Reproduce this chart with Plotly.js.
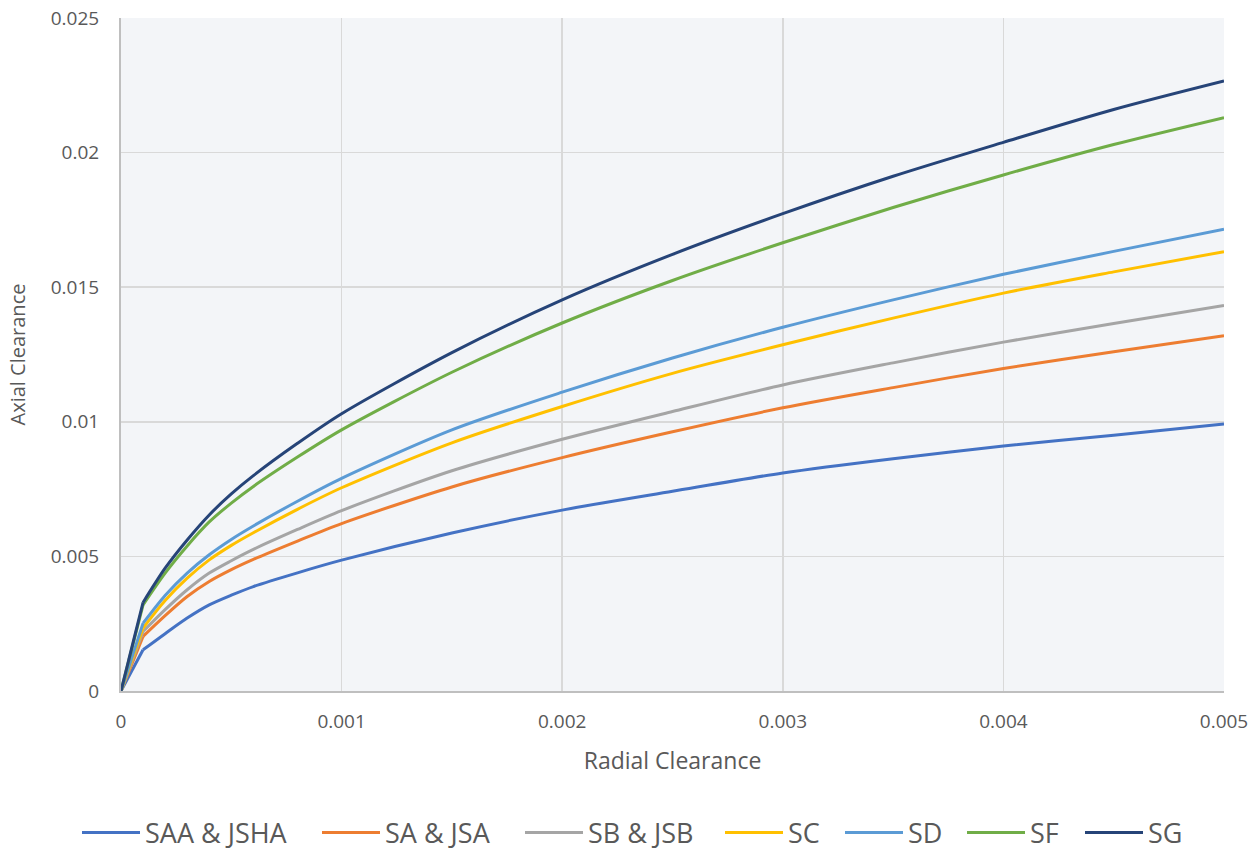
<!DOCTYPE html>
<html>
<head>
<meta charset="utf-8">
<script src="https://cdn.plot.ly/plotly-3.0.1.min.js"></script>
<style>html,body{margin:0;padding:0;background:#fff;}#chart{width:1259px;height:852px;}</style>
</head>
<body>
<div id="chart"></div>
<script>
const radial = [0, 0.0001, 0.0002, 0.0003, 0.0004, 0.0005, 0.0006, 0.0008, 0.001, 0.0015, 0.002, 0.0025, 0.003, 0.0035, 0.004, 0.0045, 0.005];

const saa = [0, 0.00153, 0.00213, 0.00271, 0.0032, 0.00356, 0.00388, 0.00439, 0.00486, 0.00587, 0.00672, 0.00742, 0.0081, 0.00863, 0.0091, 0.0095, 0.00992];
const sa  = [0, 0.00203, 0.0028, 0.00351, 0.00407, 0.00451, 0.00489, 0.00557, 0.00622, 0.00758, 0.00867, 0.00963, 0.01052, 0.01127, 0.01198, 0.0126, 0.0132];
const sb  = [0, 0.00221, 0.00302, 0.00376, 0.00438, 0.00484, 0.00526, 0.006, 0.0067, 0.00818, 0.00935, 0.01038, 0.01137, 0.01219, 0.01296, 0.01365, 0.01432];
const sc  = [0, 0.00234, 0.00336, 0.00419, 0.00487, 0.00541, 0.00588, 0.00675, 0.00755, 0.00922, 0.01057, 0.0118, 0.01286, 0.01385, 0.01478, 0.01557, 0.01632];
const sd  = [0, 0.00252, 0.00355, 0.00438, 0.00506, 0.00563, 0.00613, 0.00705, 0.0079, 0.0097, 0.0111, 0.01237, 0.01351, 0.01453, 0.01548, 0.01633, 0.01715];
const sf  = [0, 0.0032, 0.00438, 0.00539, 0.00628, 0.00698, 0.0076, 0.00869, 0.0097, 0.01184, 0.01367, 0.01525, 0.01665, 0.01796, 0.01917, 0.0203, 0.0213];
const sg  = [0, 0.00329, 0.00456, 0.00561, 0.00654, 0.00732, 0.008, 0.0092, 0.0103, 0.01257, 0.01453, 0.01622, 0.01773, 0.01912, 0.02038, 0.0216, 0.02266];

const seriesNames = ["SAA & JSHA", "SA & JSA", "SB & JSB", "SC", "SD", "SF", "SG"];
const seriesColors = ["#4472C4", "#ED7D31", "#A5A5A5", "#FFC000", "#5B9BD5", "#70AD47", "#264478"];
const seriesValues = [saa, sa, sb, sc, sd, sf, sg];

const xTickVals = [0, 0.001, 0.002, 0.003, 0.004, 0.005];
const xTickText = ["0", "0.001", "0.002", "0.003", "0.004", "0.005"];
const yTickVals = [0, 0.005, 0.01, 0.015, 0.02, 0.025];
const yTickText = ["0", "0.005", "0.01", "0.015", "0.02", "0.025"];

// legend entry left positions (pixels in the page) for each series
const legendLeftPx = [85, 325, 528, 728, 848, 970, 1088];

const plotL = 121, plotW = 1103, plotT = 18, plotH = 673;
const legendKeys = seriesNames.map((n, i) => i === 0 ? "legend" : "legend" + (i + 1));

const traces = [];
seriesValues.forEach((vals, i) => {
  traces.push({
    x: radial.slice(0, 2), y: vals.slice(0, 2),
    type: "scatter", mode: "lines",
    legend: legendKeys[i],
    legendgroup: "g" + i, showlegend: false, hoverinfo: "skip",
    line: {color: seriesColors[i], width: 3}
  });
  traces.push({
    x: radial.slice(1), y: vals.slice(1),
    name: seriesNames[i], legendgroup: "g" + i,
    legend: legendKeys[i],
    type: "scatter", mode: "lines",
    line: {color: seriesColors[i], width: 3, shape: "spline", smoothing: 0.8}
  });
});

const layout = {
  width: 1259,
  height: 852,
  margin: {l: plotL, r: 1259 - plotL - plotW, t: plotT, b: 852 - plotT - plotH, autoexpand: false},
  paper_bgcolor: "#ffffff",
  plot_bgcolor: "#F3F5F8",
  font: {family: "Open Sans, sans-serif", color: "#595959", size: 19},
  showlegend: true,
  xaxis: {
    range: [0, 0.005],
    tickvals: xTickVals,
    ticktext: xTickText,
    showgrid: true,
    gridcolor: "#D9D9D9",
    gridwidth: 1.5,
    zeroline: false,
    showline: true,
    linecolor: "#BFBFBF",
    linewidth: 2,
    ticks: "",
    automargin: false,
    ticklabelstandoff: 12,
    tickfont: {size: 19, color: "#595959"},
    title: {text: "Radial Clearance", font: {size: 23, color: "#595959"}, standoff: 20}
  },
  yaxis: {
    range: [0, 0.025],
    tickvals: yTickVals,
    ticktext: yTickText,
    showgrid: true,
    gridcolor: "#D9D9D9",
    gridwidth: 1.5,
    zeroline: false,
    showline: true,
    linecolor: "#BFBFBF",
    linewidth: 2,
    ticks: "",
    automargin: false,
    ticklabelstandoff: 16,
    tickfont: {size: 19, color: "#595959"},
    title: {text: "Axial Clearance", font: {size: 20, color: "#595959"}, standoff: 20}
  }
};

legendKeys.forEach((k, i) => {
  layout[k] = {
    orientation: "h",
    x: (legendLeftPx[i] - 8 - plotL) / plotW,
    xanchor: "left",
    y: (plotT + plotH - 833) / plotH,
    yanchor: "middle",
    font: {size: 27, color: "#595959"},
    itemwidth: 58,
    bgcolor: "rgba(0,0,0,0)",
    borderwidth: 0
  };
});

Plotly.newPlot("chart", traces, layout, {displayModeBar: false, staticPlot: true});
</script>
</body>
</html>
